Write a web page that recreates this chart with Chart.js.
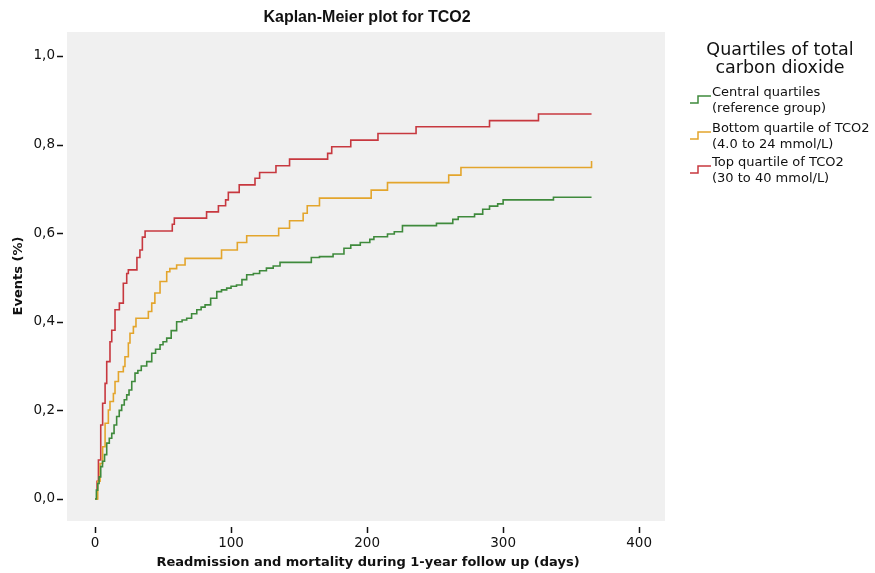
<!DOCTYPE html>
<html>
<head>
<meta charset="utf-8">
<script src="https://cdn.jsdelivr.net/npm/chart.js@4"></script>
<style>
  html, body { margin: 0; padding: 0; background: #fff; }
  #wrap { width: 875px; height: 573px; }
</style>
</head>
<body>
<div id="wrap"><canvas id="km" width="875" height="573"></canvas></div>
<script>
// Kaplan-Meier step data (days, cumulative events)
const centralDays = [0, 1, 2, 3, 4.2, 5.5, 7, 8.6, 10.5, 12.3, 14, 15.9, 17.8, 19.6, 21.5, 23.3, 25, 27, 29.4, 31.5, 34, 38, 41.7, 44.5, 47.8, 50, 52.7, 56, 60, 64, 67.4, 71, 74.8, 78, 80.9, 85, 89.5, 93, 96.8, 100, 104, 108, 111.5, 116.4, 121, 126, 131, 136, 159, 165, 175, 183, 188, 195, 202, 205, 215, 220, 226, 251, 263, 267, 279, 285, 290, 296, 300, 337, 365];
const centralEvents = [0, 0.02, 0.035, 0.05, 0.073, 0.085, 0.1, 0.126, 0.137, 0.148, 0.167, 0.186, 0.2, 0.212, 0.224, 0.235, 0.246, 0.265, 0.284, 0.29, 0.3, 0.31, 0.329, 0.338, 0.348, 0.355, 0.363, 0.38, 0.4, 0.404, 0.408, 0.418, 0.427, 0.433, 0.438, 0.453, 0.468, 0.472, 0.476, 0.48, 0.483, 0.495, 0.506, 0.509, 0.515, 0.521, 0.526, 0.534, 0.545, 0.547, 0.553, 0.566, 0.573, 0.579, 0.586, 0.592, 0.598, 0.603, 0.617, 0.622, 0.631, 0.637, 0.643, 0.654, 0.661, 0.666, 0.675, 0.681, 0.681];

const bottomDays = [0, 2, 3.7, 5.6, 7.4, 9.8, 11, 13.5, 14.7, 17.2, 20.8, 22, 24.5, 25.7, 28.2, 30.1, 39.2, 41.7, 44, 47.8, 52.7, 55, 60, 66.2, 93, 104.6, 111.5, 135, 143, 153, 156, 165, 203, 215, 260, 269, 365, 365];
const bottomEvents = [0, 0.04, 0.08, 0.118, 0.171, 0.201, 0.22, 0.238, 0.265, 0.287, 0.299, 0.321, 0.352, 0.374, 0.389, 0.408, 0.423, 0.442, 0.465, 0.491, 0.513, 0.52, 0.528, 0.543, 0.562, 0.579, 0.594, 0.611, 0.628, 0.645, 0.662, 0.679, 0.697, 0.714, 0.731, 0.748, 0.748, 0.763];

const topDays = [0, 1.5, 2.5, 4.2, 5.6, 7.4, 8.6, 11, 12.3, 14.7, 17.9, 20.8, 23.3, 24.5, 30.8, 33, 34.8, 36.8, 56.8, 58.3, 82, 90.7, 96, 98, 106, 117.6, 121, 133, 143, 171, 174, 188, 208, 236, 290, 326, 365];
const topEvents = [0, 0.04, 0.088, 0.167, 0.216, 0.261, 0.31, 0.355, 0.381, 0.427, 0.442, 0.487, 0.509, 0.517, 0.545, 0.562, 0.591, 0.605, 0.62, 0.634, 0.648, 0.662, 0.675, 0.692, 0.709, 0.724, 0.737, 0.752, 0.767, 0.78, 0.795, 0.81, 0.825, 0.84, 0.854, 0.869, 0.869];

const xTicks = [0, 100, 200, 300, 400];
const yTicks = [0, 0.2, 0.4, 0.6, 0.8, 1.0];

const seriesNames = ['Central quartiles', 'Bottom quartile of TCO2', 'Top quartile of TCO2'];
const seriesSub = ['(reference group)', '(4.0 to 24 mmol/L)', '(30 to 40 mmol/L)'];
const seriesColors = ['#3f8a3c', '#e3a52c', '#c7383f'];

const FONT = '"DejaVu Sans", sans-serif';

const pts = (xs, ys) => xs.map((x, i) => ({ x, y: ys[i] }));

const bgPlugin = {
  id: 'bg',
  beforeDraw(chart) {
    const { ctx, chartArea: a } = chart;
    ctx.save();
    ctx.fillStyle = '#fff';
    ctx.fillRect(0, 0, chart.width, chart.height);
    ctx.fillStyle = '#f0f0f0';
    ctx.fillRect(a.left, a.top, a.right - a.left, a.bottom - a.top);
    ctx.restore();
  }
};

const decorPlugin = {
  id: 'decor',
  afterDraw(chart) {
    const { ctx, chartArea: a, scales } = chart;
    ctx.save();
    ctx.strokeStyle = '#111';
    ctx.lineWidth = 1.5;
    // tick marks
    xTicks.forEach(v => {
      const px = Math.round(scales.x.getPixelForValue(v)) + 0.5;
      ctx.beginPath(); ctx.moveTo(px, a.bottom + 6); ctx.lineTo(px, a.bottom + 12); ctx.stroke();
    });
    yTicks.forEach(v => {
      const py = Math.round(scales.y.getPixelForValue(v)) + 0.5;
      ctx.beginPath(); ctx.moveTo(a.left - 10, py); ctx.lineTo(a.left - 4, py); ctx.stroke();
    });

    ctx.fillStyle = '#111';
    ctx.textAlign = 'center';
    ctx.textBaseline = 'middle';
    ctx.font = 'bold 16px "Liberation Sans", sans-serif';
    ctx.fillText('Kaplan-Meier plot for TCO2', 367, 18);

    ctx.font = `bold 13px ${FONT}`;
    ctx.fillText('Readmission and mortality during 1-year follow up (days)', 368, 563);
    ctx.save();
    ctx.translate(19, 276);
    ctx.rotate(-Math.PI / 2);
    ctx.fillText('Events (%)', 0, 0);
    ctx.restore();

    // legend
    ctx.font = `17.5px ${FONT}`;
    ctx.fillText('Quartiles of total', 780, 50);
    ctx.fillText('carbon dioxide', 780, 68);
    ctx.textAlign = 'left';
    ctx.font = `13px ${FONT}`;
    const rows = [93, 129, 163];
    rows.forEach((y, i) => {
      ctx.fillStyle = '#111';
      ctx.fillText(seriesNames[i], 712, y);
      ctx.fillText(seriesSub[i], 712, y + 16);
      ctx.strokeStyle = seriesColors[i];
      ctx.lineWidth = 1.5;
      ctx.beginPath();
      ctx.moveTo(690, y + 10);
      ctx.lineTo(698, y + 10);
      ctx.lineTo(698, y + 3);
      ctx.lineTo(711, y + 3);
      ctx.stroke();
    });
    ctx.restore();
  }
};

// 'before' draws horizontal first, then the jump at each event time
const ds = (label, xs, ys, color) => ({
  label, data: pts(xs, ys), borderColor: color, borderWidth: 1.6,
  stepped: 'before', pointRadius: 0, fill: false, tension: 0
});

new Chart(document.getElementById('km'), {
  type: 'line',
  data: {
    datasets: [
      ds(seriesNames[0], centralDays, centralEvents, seriesColors[0]),
      ds(seriesNames[1], bottomDays, bottomEvents, seriesColors[1]),
      ds(seriesNames[2], topDays, topEvents, seriesColors[2])
    ]
  },
  options: {
    responsive: false,
    animation: false,
    layout: { padding: { left: 0, top: 32, right: 210, bottom: 0 } },
    plugins: { legend: { display: false }, title: { display: false }, tooltip: { enabled: false } },
    scales: {
      x: {
        type: 'linear', min: -20.6, max: 419,
        grid: { display: false, drawTicks: false }, border: { display: false },
        afterBuildTicks: s => { s.ticks = xTicks.map(value => ({ value })); },
        afterFit: s => { s.height = 52; },
        ticks: { padding: 14, color: '#111', font: { family: FONT, size: 13.5 }, maxRotation: 0 }
      },
      y: {
        type: 'linear', min: -0.0497, max: 1.054,
        grid: { display: false, drawTicks: false }, border: { display: false },
        afterBuildTicks: s => { s.ticks = yTicks.map(value => ({ value })); },
        afterFit: s => { s.width = 67; },
        ticks: {
          padding: 12, color: '#111', font: { family: FONT, size: 13.5 },
          callback: v => v.toFixed(1).replace('.', ',')
        }
      }
    }
  },
  plugins: [bgPlugin, decorPlugin]
});
</script>
</body>
</html>
